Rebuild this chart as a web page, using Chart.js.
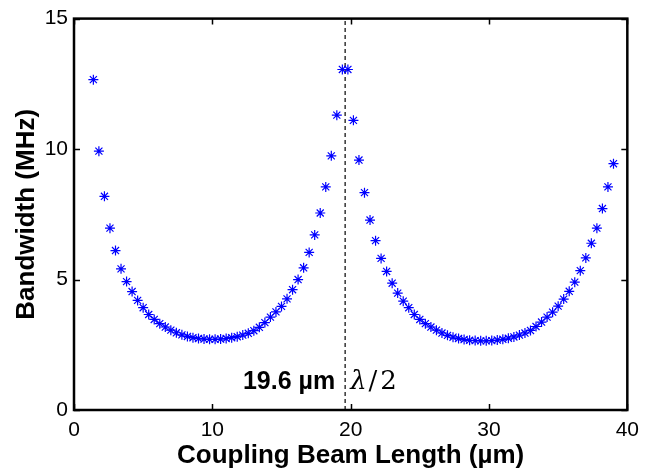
<!DOCTYPE html>
<html>
<head>
<meta charset="utf-8">
<script src="https://cdn.jsdelivr.net/npm/chart.js@4.4.0/dist/chart.umd.min.js"></script>
<style>
  html, body { margin: 0; padding: 0; background: #fff; }
  #bwChart { display: block; }
</style>
</head>
<body>
<canvas id="bwChart" width="647" height="472"></canvas>
<script>
// coupling beam length (um) and simulated bandwidth (MHz)
const beamLength = [
    1.4, 1.8, 2.2, 2.6, 3.0, 3.4, 3.8, 4.2, 4.6, 5.0,
    5.4, 5.8, 6.2, 6.6, 7.0, 7.4, 7.8, 8.2, 8.6, 9.0,
    9.4, 9.8, 10.2, 10.6, 11.0, 11.4, 11.8, 12.2, 12.6, 13.0,
    13.4, 13.8, 14.2, 14.6, 15.0, 15.4, 15.8, 16.2, 16.6, 17.0,
    17.4, 17.8, 18.2, 18.6, 19.0, 19.4,
    19.8, 20.2, 20.6, 21.0, 21.4, 21.8, 22.2, 22.6, 23.0, 23.4,
    23.8, 24.2, 24.6, 25.0, 25.4, 25.8, 26.2, 26.6, 27.0, 27.4,
    27.8, 28.2, 28.6, 29.0, 29.4, 29.8, 30.2, 30.6, 31.0, 31.4,
    31.8, 32.2, 32.6, 33.0, 33.4, 33.8, 34.2, 34.6, 35.0, 35.4,
    35.8, 36.2, 36.6, 37.0, 37.4, 37.8, 38.2, 38.6, 39.0
];
const bandwidth = [
    12.66, 9.92, 8.19, 6.97, 6.11, 5.41, 4.92, 4.54, 4.20, 3.92,
    3.66, 3.47, 3.31, 3.18, 3.06, 2.96, 2.88, 2.82, 2.77, 2.74,
    2.72, 2.71, 2.71, 2.72, 2.74, 2.77, 2.81, 2.87, 2.94, 3.04,
    3.17, 3.35, 3.56, 3.76, 3.97, 4.26, 4.61, 5.00, 5.45, 6.04,
    6.71, 7.55, 8.55, 9.74, 11.30, 13.05,
    13.05, 11.10, 9.58, 8.33, 7.28, 6.49, 5.81, 5.31, 4.86, 4.48,
    4.17, 3.92, 3.66, 3.47, 3.31, 3.18, 3.06, 2.95, 2.86, 2.79,
    2.74, 2.70, 2.67, 2.66, 2.65, 2.65, 2.66, 2.68, 2.71, 2.75,
    2.80, 2.87, 2.95, 3.05, 3.20, 3.37, 3.56, 3.75, 3.98, 4.25,
    4.55, 4.90, 5.34, 5.83, 6.39, 6.97, 7.72, 8.55, 9.44
];

// half-wavelength marker
const halfWave = 19.6;
const halfWaveLabel = '19.6 µm';

const xTicks = [0, 10, 20, 30, 40];
const yTicks = [0, 5, 10, 15];

const points = beamLength.map((x, i) => ({ x: x, y: bandwidth[i] }));

// MATLAB-style box with inward ticks on all four sides, plus the lambda/2 label
const boxPlugin = {
    id: 'boxPlugin',
    afterDatasetsDraw(chart) {
        const ctx = chart.ctx;
        const a = chart.chartArea;
        const xs = chart.scales.x, ys = chart.scales.y;
        ctx.save();
        ctx.strokeStyle = '#000';
        ctx.lineWidth = 1.5;
        ctx.beginPath();
        xTicks.forEach(v => {
            const px = Math.round(xs.getPixelForValue(v)) + 0.5;
            ctx.moveTo(px, a.bottom); ctx.lineTo(px, a.bottom - 6);
            ctx.moveTo(px, a.top); ctx.lineTo(px, a.top + 6);
        });
        yTicks.forEach(v => {
            const py = Math.round(ys.getPixelForValue(v)) + 0.5;
            ctx.moveTo(a.left, py); ctx.lineTo(a.left + 6, py);
            ctx.moveTo(a.right, py); ctx.lineTo(a.right - 6, py);
        });
        ctx.stroke();
        ctx.lineWidth = 2.5;
        ctx.strokeRect(a.left, a.top, a.right - a.left, a.bottom - a.top);

        // labels either side of the dashed line
        const lx = xs.getPixelForValue(halfWave);
        const base = a.bottom - 21;
        ctx.fillStyle = '#000';
        ctx.textBaseline = 'alphabetic';
        ctx.font = 'bold 25px "Liberation Sans", Arial, sans-serif';
        ctx.textAlign = 'right';
        ctx.fillText(halfWaveLabel, lx - 10, base);
        ctx.textAlign = 'left';
        ctx.font = 'italic 26px "DejaVu Serif", serif';
        ctx.fillText('λ', lx + 5, base);
        const lw = ctx.measureText('λ').width;
        ctx.font = '26px "DejaVu Serif", serif';
        ctx.fillText('/', lx + 7 + lw, base);
        const sw = ctx.measureText('/').width;
        ctx.fillText('2', lx + 10 + lw + sw, base);
        ctx.restore();
    }
};

new Chart(document.getElementById('bwChart'), {
    type: 'scatter',
    data: {
        datasets: [{
            label: 'Bandwidth',
            data: points,
            showLine: false,
            pointStyle: 'star',
            pointRadius: 5,
            pointBorderWidth: 1.2,
            borderColor: '#0000ff',
            backgroundColor: '#0000ff'
        }, {
            label: 'lambda/2',
            data: [{ x: halfWave, y: 0 }, { x: halfWave, y: 15 }],
            showLine: true,
            pointRadius: 0,
            borderColor: '#000',
            borderWidth: 1.2,
            borderDash: [4, 3]
        }]
    },
    options: {
        responsive: false,
        animation: false,
        layout: { padding: { left: 0, right: 13, top: 17, bottom: 0 } },
        plugins: {
            legend: { display: false },
            tooltip: { enabled: false }
        },
        scales: {
            x: {
                type: 'linear',
                min: 0,
                max: 40,
                afterFit(scale) { scale.height = 62; },
                afterBuildTicks(scale) { scale.ticks = xTicks.map(v => ({ value: v })); },
                grid: { display: false, drawTicks: false },
                border: { display: false },
                ticks: {
                    autoSkip: false,
                    maxRotation: 0,
                    padding: 8,
                    color: '#000',
                    font: { family: '"Liberation Sans", Arial, sans-serif', size: 21 }
                },
                title: {
                    display: true,
                    text: 'Coupling Beam Length (µm)',
                    color: '#000',
                    padding: { top: 0, bottom: 1 },
                    font: { family: '"Liberation Sans", Arial, sans-serif', size: 26, weight: 'bold' }
                }
            },
            y: {
                type: 'linear',
                min: 0,
                max: 15,
                afterFit(scale) { scale.width = 74; },
                afterBuildTicks(scale) { scale.ticks = yTicks.map(v => ({ value: v })); },
                grid: { display: false, drawTicks: false },
                border: { display: false },
                ticks: {
                    autoSkip: false,
                    padding: 6,
                    color: '#000',
                    font: { family: '"Liberation Sans", Arial, sans-serif', size: 21 }
                },
                title: {
                    display: true,
                    text: 'Bandwidth (MHz)',
                    color: '#000',
                    padding: { top: 11, bottom: 0 },
                    font: { family: '"Liberation Sans", Arial, sans-serif', size: 26, weight: 'bold' }
                }
            }
        }
    },
    plugins: [boxPlugin]
});
</script>
</body>
</html>
